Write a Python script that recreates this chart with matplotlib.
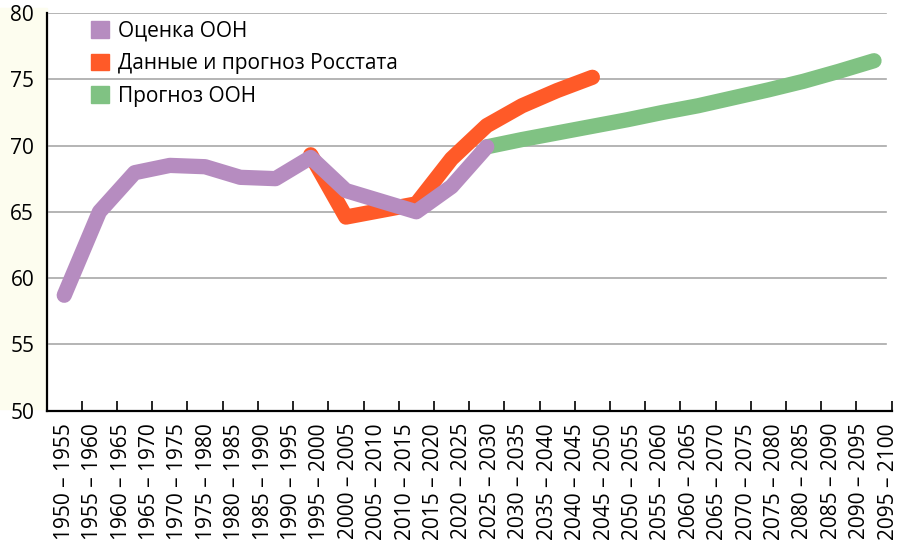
import numpy as np
import matplotlib.pyplot as plt
from matplotlib.patches import Patch, Rectangle

plt.rcParams['font.family'] = ['Open Sans', 'DejaVu Sans']

# period labels under the axis
periods = [f"{y} – {y + 5}" for y in range(1950, 2100, 5)]

# series, one value per point (24 points along the axis)
un_idx = list(range(0, 13))
un_est = [58.7, 65.0, 67.95, 68.5, 68.4, 67.6, 67.5, 69.1, 66.6, 65.8, 65.0, 66.9, 69.9]

rs_idx = list(range(7, 16))
rosstat = [69.3, 64.6, 65.1, 65.6, 69.0, 71.5, 73.0, 74.15, 75.15]

fc_idx = list(range(12, 24))
un_fc = [69.9, 70.45, 70.95, 71.45, 71.95, 72.5, 73.0, 73.6, 74.2, 74.85, 75.6, 76.4]

c_un = '#b68cc0'
c_rs = '#ff5a28'
c_fc = '#80c283'

fig = plt.figure(figsize=(8.97, 5.43), dpi=100)
fig.patches.append(Rectangle((0, 0.247), 0.052, 0.738, transform=fig.transFigure,
                             color='#fdfdef', zorder=-5))
ax = fig.add_axes([0.052, 0.244, 0.942, 0.732])
ax.patch.set_alpha(0)

lw = 11
ax.plot(fc_idx, un_fc, color=c_fc, lw=lw, solid_capstyle='round', solid_joinstyle='round', zorder=3)
ax.plot(rs_idx, rosstat, color=c_rs, lw=lw, solid_capstyle='round', solid_joinstyle='round', zorder=4)
ax.plot(un_idx, un_est, color=c_un, lw=lw, solid_capstyle='round', solid_joinstyle='round', zorder=5)

ax.set_xlim(-0.5, 23.5)
ax.set_ylim(50, 80)
yt = list(range(50, 81, 5))
ax.set_yticks(yt)
ax.set_yticklabels([str(v) for v in yt], fontsize=15)
for v in yt[1:]:
    ax.axhline(v, xmin=0.003, xmax=0.993, color='#a8a8a8', lw=1.2, zorder=1)

ax.set_xticks(np.linspace(0, 23.4, len(periods)))
ax.set_xticklabels(periods, rotation=90, fontsize=15)
ax.set_xticks(np.arange(-0.5, 24), minor=True)
ax.tick_params(axis='x', which='major', length=0, pad=9)
ax.tick_params(axis='x', which='minor', direction='in', length=7, width=1.2)
ax.tick_params(axis='y', length=0, pad=9)

for s in ['top', 'right']:
    ax.spines[s].set_visible(False)
ax.spines['left'].set_linewidth(1.6)
ax.spines['bottom'].set_linewidth(1.6)

handles = [Patch(color=c_un, label='Оценка ООН'),
           Patch(color=c_rs, label='Данные и прогноз Росстата'),
           Patch(color=c_fc, label='Прогноз ООН')]
ax.legend(handles=handles, loc='upper left', bbox_to_anchor=(0.038, 1.012), frameon=False,
          fontsize=15, handlelength=0.85, handleheight=0.85, handletextpad=0.45,
          labelspacing=0.55, borderaxespad=0.2)

plt.savefig('out.png')
